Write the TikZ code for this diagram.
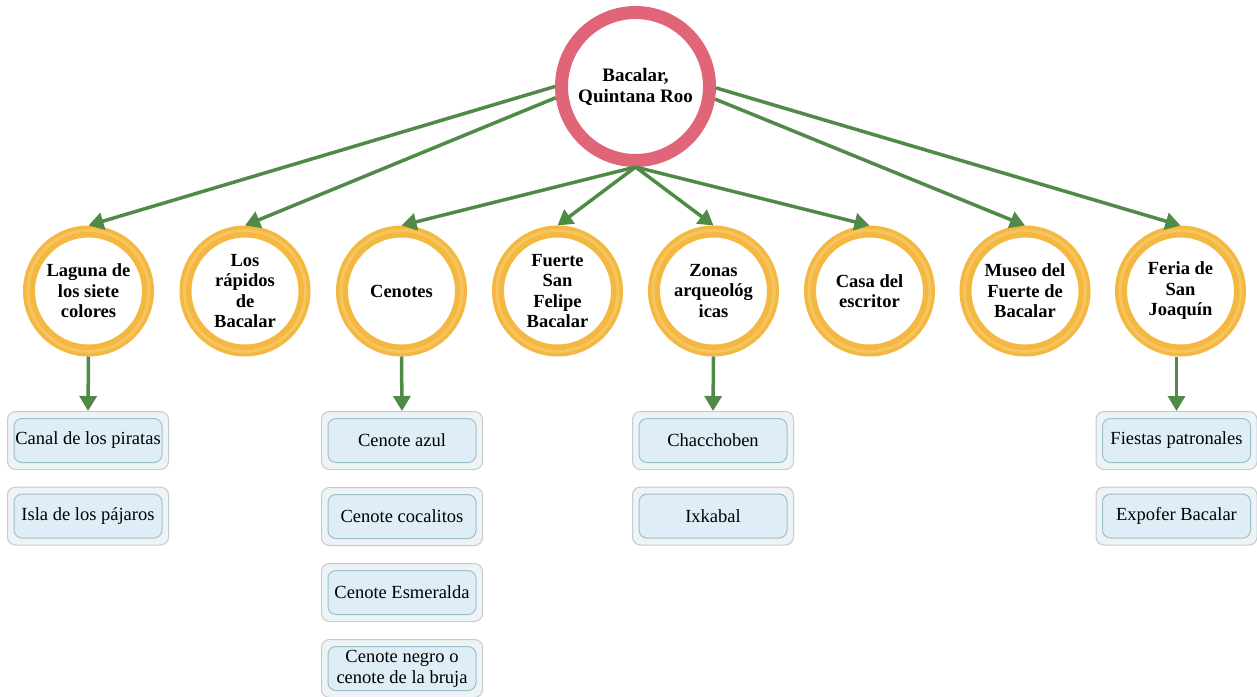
\documentclass[tikz,border=0pt]{standalone}
\usepackage{fontspec}
\setmainfont{Liberation Serif}
\usetikzlibrary{arrows.meta}
\definecolor{arrowgreen}{HTML}{4F8A47}
\definecolor{ringpink}{HTML}{E06578}
\definecolor{ringyellow}{HTML}{F4B740}
\definecolor{ringlight}{HTML}{F7C55F}
\definecolor{outerfill}{HTML}{EEF3F6}
\definecolor{outerdraw}{HTML}{C3CCD2}
\definecolor{innerfill}{HTML}{DFEEF6}
\definecolor{innerdraw}{HTML}{9CBFCC}
\newcommand\leafbox[4]{%
  \node[outerbox] (#1) at (#2,#3) {};
  \node[innerbox] (#1-in) at (#2,#3) {#4};
}
\newcommand\topicring[4]{%
  \node[topic] (#1) at (#2,#3) {#4};
  \draw[ringlight, line width=3pt] (#1.center) circle[radius=60.5pt];
}
\begin{document}
\begin{tikzpicture}[x=1pt,y=-1pt,
  mainring/.style={circle, draw=ringpink, line width=13pt, minimum size=148pt, inner sep=0pt, fill=white, align=center, font=\fontsize{19}{21}\selectfont\bfseries},
  topic/.style={circle, draw=ringyellow, line width=12pt, minimum size=119pt, inner sep=0pt, fill=white, align=center, font=\fontsize{18.5}{20.5}\selectfont\bfseries},
  outerbox/.style={draw=outerdraw, fill=outerfill, line width=1pt, rounded corners=8pt, minimum width=161pt, minimum height=58pt, inner sep=0pt},
  innerbox/.style={draw=innerdraw, fill=innerfill, line width=1pt, rounded corners=8pt, minimum width=148pt, minimum height=44pt, inner sep=0pt, align=center, font=\fontsize{18.5}{21}\selectfont},
  link/.style={draw=arrowgreen, line width=3.5pt, -{Triangle[length=15pt,width=17pt]}}
]
\useasboundingbox (0,0) rectangle (1257,696);

\node[mainring] (top) at (635.5,86.5) {Bacalar,\\Quintana Roo};

\topicring{c1}{88.5}{291}{Laguna de\\los siete\\colores}
\topicring{c2}{245}{291}{Los\\rápidos\\de\\Bacalar}
\topicring{c3}{401.5}{291}{Cenotes}
\topicring{c4}{557.5}{291}{Fuerte\\San\\Felipe\\Bacalar}
\topicring{c5}{713.5}{291}{Zonas\\arqueológ\\icas}
\topicring{c6}{869.5}{291}{Casa del\\escritor}
\topicring{c7}{1025}{291}{Museo del\\Fuerte de\\Bacalar}
\topicring{c8}{1180.5}{291}{Feria de\\San\\Joaquín}

\draw[link] (top.180) -- (c1.north);
\draw[link] (top.188) -- (c2.north);
\draw[link] (top.south) -- (c3.north);
\draw[link] (top.south) -- (c4.north);
\draw[link] (top.south) -- (c5.north);
\draw[link] (top.south) -- (c6.north);
\draw[link] (top.351) -- (c7.north);
\draw[link] (top.359) -- (c8.north);

\leafbox{l1}{88}{440.5}{Canal de los piratas}
\leafbox{l2}{88}{516}{Isla de los pájaros}
\leafbox{l3}{402}{440.5}{Cenote azul}
\leafbox{l4}{402}{516.5}{Cenote cocalitos}
\leafbox{l5}{402}{592.5}{Cenote Esmeralda}
\leafbox{l6}{402}{668.5}{Cenote negro o\\cenote de la bruja}
\leafbox{l7}{713}{440.5}{Chacchoben}
\leafbox{l8}{713}{516}{Ixkabal}
\leafbox{l9}{1176.5}{440.5}{Fiestas patronales}
\leafbox{l10}{1176.5}{516}{Expofer Bacalar}

\draw[link] (c1.south) -- (l1.north);
\draw[link] (c3.south) -- (l3.north);
\draw[link] (c5.south) -- (l7.north);
\draw[link] (c8.south -| l9.north) -- (l9.north);
\end{tikzpicture}
\end{document}
